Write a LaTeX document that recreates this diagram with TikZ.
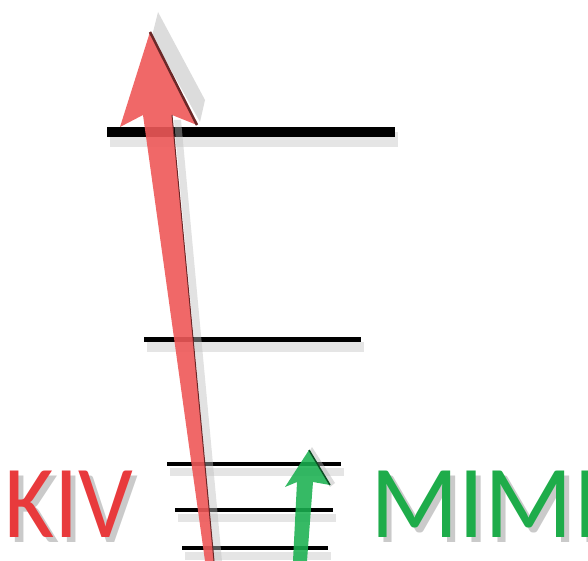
\documentclass[tikz,border=0pt]{standalone}
\usepackage{fontspec}
\setmainfont{Carlito}
\definecolor{kivred}{RGB}{232,58,60}
\definecolor{arrred}{RGB}{238,88,88}
\definecolor{mimigreen}{RGB}{30,172,74}
\definecolor{arrgreen}{RGB}{26,176,80}
\tikzset{
  level/.style={line width=#1, line cap=butt},
  levelshadow/.style={line width=#1, black!25, opacity=0.4},
  label/.style={anchor=base west, inner sep=0pt, font=\fontsize{104}{104}\selectfont},
  textshadow/.style={label, text=black!35, opacity=0.6}
}
\begin{document}
\begin{tikzpicture}[x=1bp,y=-1bp]
\useasboundingbox (0,0) rectangle (588,561);
\clip (0,0) rectangle (588,561);
% energy levels
\foreach \y/\a/\b/\w in {132/107/395/10bp, 339/144/361/5bp, 464/167/341/3.5bp, 510/175/333/3.5bp, 548/182/328/3.5bp}{
  \draw[levelshadow=\w+5bp] (\a+3,\y+8) -- (\b+3,\y+8);
  \draw[level=\w] (\a,\y) -- (\b,\y);
}
% labels
\node[textshadow, xscale=0.93, transform shape] at (9,542) {KIV};
\node[label, text=kivred, xscale=0.93, transform shape](kiv) at (4,537) {KIV};
\node[textshadow] at (375,542) {MIMI};
\node[label, text=mimigreen](mimi) at (370,537) {MIMI};
% red arrow
\coordinate (redtip) at (150,32);
\coordinate (redfoot) at (209,561);
\fill[black!30, opacity=0.45] (158,12) -- (205,100) -- (200,122) -- (152,36) -- cycle;
\fill[black!25, opacity=0.45] (174,120) -- (181,120) -- (222,561) -- (214,561) -- cycle;
\fill[arrred, opacity=0.9] (205,561) -- (143,115) -- (120,127) -- (redtip) -- (197,125) -- (172,115) -- (214,561) -- cycle;
\draw[arrred!45!black, line width=2.5bp] (redtip) -- (197,125);
\draw[arrred!45!black, line width=1bp] (172,115) -- (214,561);
% green arrow
\coordinate (greentip) at (309,450);
\coordinate (greenfoot) at (300,561);
\fill[black!30, opacity=0.45] (312,447) -- (335,483) -- (330,487) -- (309,452) -- cycle;
\fill[arrgreen, opacity=0.88] (293,561) -- (297,482) -- (285,487) -- (greentip) -- (330,485) -- (313,482) -- (307,561) -- cycle;
\draw[arrgreen!45!black, line width=1.5bp] (greentip) -- (330,485);
\end{tikzpicture}
\end{document}
